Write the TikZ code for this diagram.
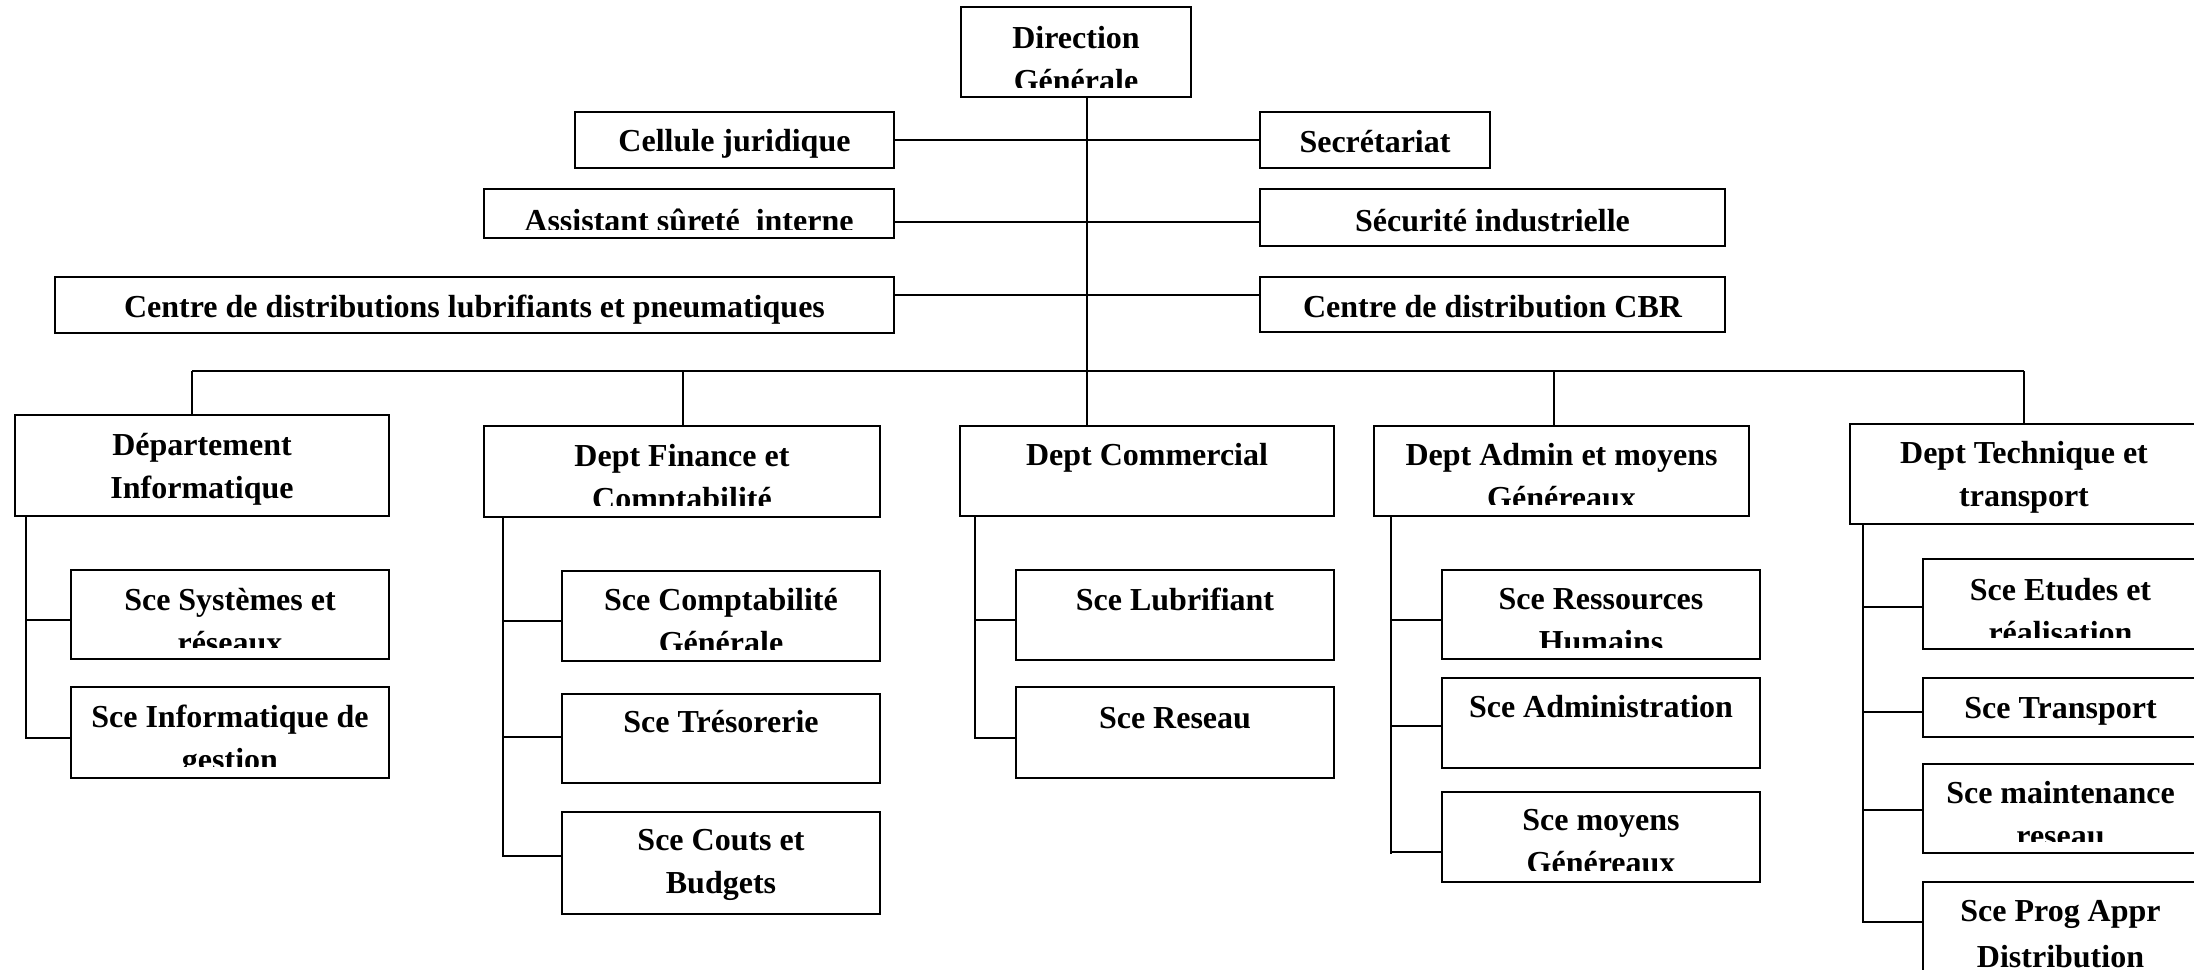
\documentclass[tikz,border=0pt]{standalone}
\usepackage{fontspec}
\setmainfont{Liberation Serif}
\usetikzlibrary{fit}
\tikzset{
  orgframe/.style={draw, line width=0.6pt, inner sep=0pt, rectangle},
  orgtxt/.style={inner sep=0pt, font=\fontsize{9.1pt}{12.5pt}\selectfont\bfseries},
  link/.style={line width=0.6pt}
}
% [clip offset], name, x1, y1, x2, y2, baseline y, text
\newcommand{\orgbox}[8][9]{%
  \node[orgframe, fit={(#3,#4)(#5,#6)}] (#2) {};
  \begin{scope}
    \clip (#3,#4) rectangle (#5,{#6-#1});
    \node[orgtxt, anchor=base] (#2t) at ({(#3+#5)/2},#7) {\parbox[t]{8cm}{\centering #8}};
  \end{scope}}
\begin{document}
\begin{tikzpicture}[x=0.01cm,y=-0.01cm]
\useasboundingbox (0,0) rectangle (2194,969);
\clip (0,0) rectangle (2194,969);

% top level
\orgbox[10]{dg}{961}{7}{1191}{97}{48}{Direction\\Générale}
\orgbox{cel}{575}{112}{894}{168}{151}{Cellule juridique}
\orgbox{sec}{1260}{112}{1490}{168}{152}{Secrétariat}
\orgbox[9]{ass}{484}{189}{894}{238}{231}{Assistant sûreté~ interne}
\orgbox{secu}{1260}{189}{1725}{246}{231}{Sécurité industrielle}
\orgbox{lub}{55}{277}{894}{333}{317}{Centre de distributions lubrifiants et pneumatiques}
\orgbox{cbr}{1260}{277}{1725}{332}{317}{Centre de distribution CBR}

% departments
\orgbox{inf}{15}{415}{389}{516}{455}{Département\\Informatique}
\orgbox[12]{fin}{484}{426}{880}{517}{466}{Dept Finance et\\Comptabilité}
\orgbox{com}{960}{426}{1334}{516}{465}{Dept Commercial}
\orgbox[12]{adm}{1374}{426}{1749}{516}{465}{Dept Admin et moyens\\Généreaux}
\orgbox{tec}{1850}{424}{2198}{524}{463}{Dept Technique et\\transport}

% services
\orgbox[12]{ssr}{71}{570}{389}{659}{610}{Sce Systèmes et\\réseaux}
\orgbox[12]{sig}{71}{687}{389}{778}{727}{Sce Informatique de\\gestion}
\orgbox[12]{scg}{562}{571}{880}{661}{610}{Sce Comptabilité\\Générale}
\orgbox{str}{562}{694}{880}{783}{732}{Sce Trésorerie}
\orgbox{scb}{562}{812}{880}{914}{850}{Sce Couts et\\Budgets}
\orgbox{slu}{1016}{570}{1334}{660}{610}{Sce Lubrifiant}
\orgbox{sre}{1016}{687}{1334}{778}{728}{Sce Reseau}
\orgbox[12]{srh}{1442}{570}{1760}{659}{609}{Sce Ressources\\Humains}
\orgbox{sad}{1442}{678}{1760}{768}{717}{Sce Administration}
\orgbox[12]{smg}{1442}{792}{1760}{882}{830}{Sce moyens\\Généreaux}
\orgbox[12]{sea}{1923}{559}{2198}{649}{600}{Sce Etudes et\\réalisation}
\orgbox{stp}{1923}{678}{2198}{737}{718}{Sce Transport}
\orgbox[12]{smr}{1923}{764}{2198}{853}{803}{Sce maintenance\\reseau}
\orgbox{spa}{1923}{882}{2198}{1000}{921}{Sce Prog Appr\\[0.6pt]Distribution}

% trunk and side links
\coordinate (tk) at (1087,0);
\draw[link] (tk |- dg.south) -- (tk |- com.north);
\draw[link] (cel.east) -- (sec.west);
\draw[link] (ass.east |- 0,222) -- (secu.west |- 0,222);
\draw[link] (lub.east |- 0,295) -- (cbr.west |- 0,295);

% department bus
\coordinate (dInf) at (192,371);
\coordinate (dFin) at (683,371);
\coordinate (dAdm) at (1554,371);
\coordinate (dTec) at (2024,371);
\draw[link] (dInf) -- (dTec);
\draw[link] (dInf) -- (dInf |- inf.north);
\draw[link] (dFin) -- (dFin |- fin.north);
\draw[link] (dAdm) -- (dAdm |- adm.north);
\draw[link] (dTec) -- (dTec |- tec.north);

% service buses
\coordinate (vInf) at (26,0);
\draw[link] (vInf |- inf.south) |- (sig.west |- 0,738);
\draw[link] (vInf |- 0,620) -- (ssr.west |- 0,620);

\coordinate (vFin) at (503,0);
\draw[link] (vFin |- fin.south) |- (scb.west |- 0,856);
\draw[link] (vFin |- 0,621) -- (scg.west |- 0,621);
\draw[link] (vFin |- 0,737) -- (str.west |- 0,737);

\coordinate (vCom) at (975,0);
\draw[link] (vCom |- com.south) |- (sre.west |- 0,738);
\draw[link] (vCom |- 0,620) -- (slu.west |- 0,620);

\coordinate (vAdm) at (1391,0);
\draw[link] (vAdm |- adm.south) -- (vAdm |- 0,854);
\draw[link] (vAdm |- 0,852) -- (smg.west |- 0,852);
\draw[link] (vAdm |- 0,620) -- (srh.west |- 0,620);
\draw[link] (vAdm |- 0,726) -- (sad.west |- 0,726);

\coordinate (vTec) at (1863,0);
\draw[link] (vTec |- tec.south) |- (spa.west |- 0,922);
\draw[link] (vTec |- 0,607) -- (sea.west |- 0,607);
\draw[link] (vTec |- 0,712) -- (stp.west |- 0,712);
\draw[link] (vTec |- 0,810) -- (smr.west |- 0,810);
\end{tikzpicture}
\end{document}
